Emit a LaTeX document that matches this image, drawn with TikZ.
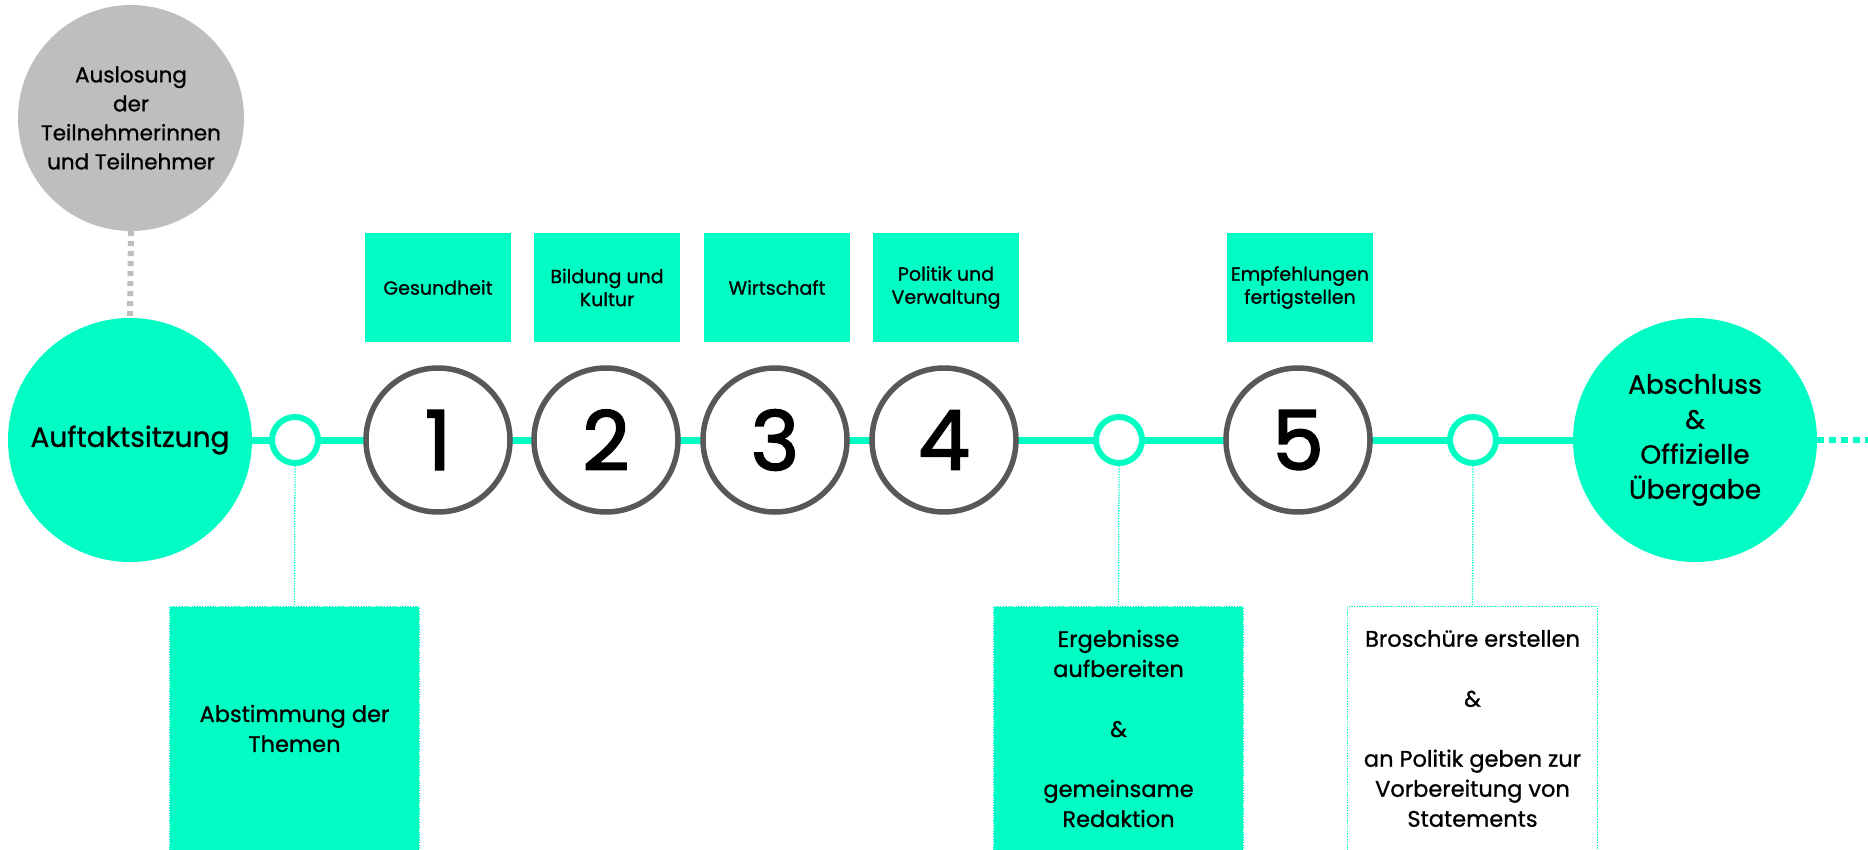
\documentclass[tikz,border=0pt]{standalone}
\usepackage{fontspec}
\setmainfont{Poppins}[FakeBold=0.9]
\newfontfamily\digitfont{Poppins}[FakeBold=2.2]
\usetikzlibrary{backgrounds}
\definecolor{mint}{RGB}{2,253,196}
\definecolor{lightgray}{RGB}{190,190,190}
\definecolor{ringgray}{RGB}{88,88,88}
\begin{document}
\begin{tikzpicture}[x=1pt,y=-1pt,
  bigdisc/.style={circle, fill=mint, minimum size=244pt, inner sep=0pt, align=center, font=\fontsize{26.5}{35}\selectfont},
  graydisc/.style={circle, fill=lightgray, minimum size=226pt, inner sep=0pt, align=center, font=\fontsize{21.5}{29}\selectfont},
  ring/.style={circle, draw=mint, line width=6pt, fill=white, minimum size=46pt, inner sep=0pt},
  numdisc/.style={circle, draw=ringgray, line width=5.5pt, fill=white, minimum size=144pt, inner sep=0pt, font=\digitfont\fontsize{82}{82}\selectfont},
  topbox/.style={rectangle, fill=mint, minimum width=146pt, minimum height=109pt, inner sep=0pt, align=center, font=\fontsize{19}{23}\selectfont},
  lowbox/.style={rectangle, fill=mint, minimum width=249pt, minimum height=243pt, inner sep=0pt, align=center, font=\fontsize{22.5}{30}\selectfont},
  whitebox/.style={lowbox, fill=white},
  thindot/.style={draw=mint, line width=1.3pt, dash pattern=on 1.3pt off 1.3pt},
  mainline/.style={draw=mint, line width=7pt},
  graydots/.style={draw=lightgray, line width=6pt, dash pattern=on 5pt off 5pt},
  taildots/.style={draw=mint, line width=5.5pt, dash pattern=on 7pt off 5pt}
]
\useasboundingbox (0,0) rectangle (1868,850);

% main discs
\node[graydisc] (los) at (131,118) {Auslosung\\der\\Teilnehmerinnen\\und Teilnehmer};
\node[bigdisc, font=\fontsize{28}{35}\selectfont] (auf) at (130,440) {Auftaktsitzung};
\node[bigdisc] (abs) at (1695,440) {Abschluss\\\&\\Offizielle\\Übergabe};

% small rings
\node[ring] (r1) at (295,440) {};
\node[ring] (r2) at (1119,440) {};
\node[ring] (r3) at (1473,440) {};

% numbered discs
\node[numdisc] (n1) at (438,440) {1};
\node[numdisc] (n2) at (606,440) {2};
\node[numdisc] (n3) at (775,440) {3};
\node[numdisc] (n4) at (944,440) {4};
\node[numdisc] (n5) at (1298,440) {5};

% top boxes
\node[topbox] (t1) at (438,287.5) {Gesundheit};
\node[topbox] (t2) at (607,287.5) {Bildung und\\Kultur};
\node[topbox] (t3) at (777,287.5) {Wirtschaft};
\node[topbox] (t4) at (946,287.5) {Politik und\\Verwaltung};
\node[topbox] (t5) at (1300,287.5) {Empfehlungen\\fertigstellen};

% bottom boxes
\node[lowbox] (b1) at (294.5,728.5) {Abstimmung der\\Themen};
\node[lowbox] (b2) at (1118.5,728.5) {Ergebnisse\\aufbereiten\\[30pt]\&\\[30pt]gemeinsame\\Redaktion};
\node[whitebox] (b3) at (1472.5,728.5) {Broschüre erstellen\\[30pt]\&\\[30pt]an Politik geben zur\\Vorbereitung von\\Statements};

\draw[thindot] (b1.south west) -- (b1.north west) -- (b1.north east) -- (b1.south east);
\draw[thindot] (b2.south west) -- (b2.north west) -- (b2.north east) -- (b2.south east);
\draw[thindot] (b3.south west) -- (b3.north west) -- (b3.north east) -- (b3.south east);

% connectors
\begin{scope}[on background layer]
\draw[mainline] (auf) -- (abs);
\end{scope}
\draw[graydots] (los.south) -- (auf.north);
\draw[thindot] (r1.south) -- (b1.north);
\draw[thindot] (r2.south) -- (b2.north);
\draw[thindot] (r3.south) -- (b3.north);
\coordinate (tailend) at (1868,440);
\draw[taildots] (abs.east) -- (tailend);
\end{tikzpicture}
\end{document}
